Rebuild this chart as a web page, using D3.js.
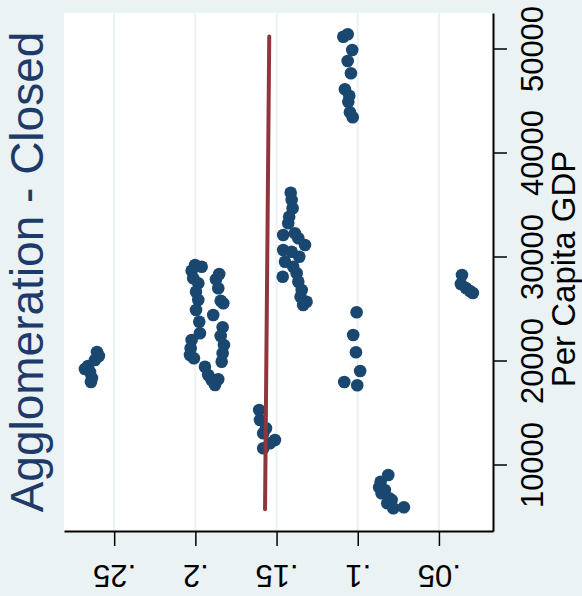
<!DOCTYPE html>
<html lang="en">
<head>
<meta charset="UTF-8">
<title>Agglomeration - Closed vs Per Capita GDP</title>
<script src="https://d3js.org/d3.v7.min.js"></script>
<style>
  body { margin: 0; background: #eaf2f3; }
  svg { display: block; font-family: "Liberation Sans", Arial, sans-serif; }
</style>
</head>
<body>
<div id="chart"></div>
<script>
// observations: agglomeration (closed) and per capita GDP, paired by index
const agglo = [
  0.2606, 0.2594, 0.2618, 0.2661, 0.2680, 0.2649, 0.2637, 0.2643,
  0.2002, 0.1961, 0.2023, 0.2013, 0.1982, 0.1996, 0.1982, 0.1996, 0.1976, 0.1972, 0.2023, 0.2029, 0.2033, 0.2009,
  0.1853, 0.1873, 0.1859, 0.1844, 0.1828, 0.1890, 0.1832, 0.1844, 0.1824, 0.1832, 0.1838, 0.1941, 0.1921, 0.1900, 0.1859, 0.1879,
  0.1607, 0.1602, 0.1565, 0.1582, 0.1510, 0.1541, 0.1582,
  0.1413, 0.1407, 0.1401, 0.1422, 0.1428, 0.1459, 0.1387, 0.1366, 0.1325, 0.1459, 0.1407,
  0.1360, 0.1448, 0.1397, 0.1462, 0.1376, 0.1366, 0.1345, 0.1352, 0.1315, 0.1336,
  0.1089, 0.1062, 0.1034, 0.1062, 0.1042, 0.1079, 0.1052, 0.1058, 0.1048, 0.1031,
  0.1007, 0.1028, 0.1011, 0.0985, 0.1083, 0.1003,
  0.0812, 0.0859, 0.0868, 0.0853, 0.0833, 0.0806, 0.0818, 0.0791, 0.0781, 0.0716,
  0.0358, 0.0365, 0.0334, 0.0309, 0.0291
];
const gdp = [
  20817, 20433, 20048, 19471, 19183, 18894, 18317, 17933,
  29183, 29019, 28635, 27904, 27423, 26615, 25817, 24856, 23731, 22615, 21971, 21173, 20529, 20212,
  28317, 27808, 26942, 25750, 25500, 24375, 23192, 22356, 21490, 20692, 19885, 19404, 18606, 18125, 18192, 17644,
  15240, 14279, 13481, 13000, 12356, 12038, 11558,
  36135, 35433, 34635, 33827, 33192, 32067, 32231, 31750, 31106, 30625, 30462,
  29981, 29500, 29019, 28058, 28385, 27577, 26779, 26135, 25654, 25337,
  51135, 51365, 49856, 48798, 47615, 46077, 45462, 44885, 43865, 43385,
  24635, 22452, 20788, 18990, 17933, 17615,
  8990, 8346, 7808, 7231, 7548, 6750, 6269, 6587, 5788, 5885,
  28221, 27356, 26971, 26683, 26490
];

// fitted line end points
const fitGdp = [5692, 51154];
const fitAgglo = [0.1571, 0.1545];

const aggloTicks = [0.25, 0.2, 0.15, 0.1, 0.05];
const aggloTickLabels = [".25", ".2", ".15", ".1", ".05"];
const gdpTicks = [10000, 20000, 30000, 40000, 50000];

const width = 582;
const height = 596;
const plot = { left: 64, right: 493, top: 13, bottom: 531 };

const svg = d3.select("#chart").append("svg")
    .attr("width", width)
    .attr("height", height);

svg.append("rect")
    .attr("width", width)
    .attr("height", height)
    .attr("fill", "#eaf2f3");

// chart is drawn turned: agglomeration runs right to left, GDP bottom to top
const x = d3.scaleLinear()
    .domain([0.2809, 0.0167])
    .range([plot.left, plot.right]);

const y = d3.scaleLinear()
    .domain([3606, 53413])
    .range([plot.bottom, plot.top]);

svg.append("rect")
    .attr("x", plot.left)
    .attr("y", plot.top)
    .attr("width", plot.right - plot.left)
    .attr("height", plot.bottom - plot.top)
    .attr("fill", "#ffffff");

// grid
svg.append("g")
    .selectAll("line")
    .data(aggloTicks)
    .enter().append("line")
    .attr("x1", d => x(d))
    .attr("x2", d => x(d))
    .attr("y1", plot.top)
    .attr("y2", plot.bottom)
    .attr("stroke", "#eaf2f3")
    .attr("stroke-width", 2);

// points
svg.append("g")
    .selectAll("circle")
    .data(agglo.map((a, i) => [a, gdp[i]]))
    .enter().append("circle")
    .attr("cx", d => x(d[0]))
    .attr("cy", d => y(d[1]))
    .attr("r", 6.3)
    .attr("fill", "#1a476f");

// fitted line
const line = d3.line()
    .x(d => x(d[0]))
    .y(d => y(d[1]));

svg.append("path")
    .datum(fitAgglo.map((a, i) => [a, fitGdp[i]]))
    .attr("d", line)
    .attr("fill", "none")
    .attr("stroke", "#90353b")
    .attr("stroke-width", 4)
    .attr("stroke-linecap", "round");

// bottom axis (agglomeration), labels upside down
const xAxis = svg.append("g")
    .attr("transform", `translate(0,${plot.bottom})`)
    .call(d3.axisBottom(x)
        .tickValues(aggloTicks)
        .tickFormat((d, i) => aggloTickLabels[i])
        .tickSize(15)
        .tickSizeOuter(0));

xAxis.select(".domain").attr("stroke-width", 2);
xAxis.selectAll(".tick line").attr("stroke-width", 1.5);
xAxis.selectAll(".tick text")
    .attr("x", 0)
    .attr("y", 0)
    .attr("dy", 0)
    .attr("transform", "translate(0,34) rotate(180)")
    .attr("font-size", 31)
    .attr("font-family", "Liberation Sans, Arial, sans-serif")
    .attr("fill", "#000");

// right axis (GDP)
const yAxis = svg.append("g")
    .attr("transform", `translate(${plot.right},0)`)
    .call(d3.axisRight(y)
        .tickValues(gdpTicks)
        .tickFormat(d3.format("d"))
        .tickSize(14)
        .tickSizeOuter(0));

yAxis.select(".domain").attr("stroke-width", 2);
yAxis.selectAll(".tick line").attr("stroke-width", 1.5);
yAxis.selectAll(".tick text")
    .attr("x", 0)
    .attr("dy", 0)
    .attr("text-anchor", "middle")
    .attr("transform", "translate(50,0) rotate(-90)")
    .attr("font-size", 31)
    .attr("font-family", "Liberation Sans, Arial, sans-serif")
    .attr("fill", "#000");

// titles
svg.append("text")
    .attr("transform", `translate(43,${(plot.top + plot.bottom) / 2}) rotate(-90)`)
    .attr("text-anchor", "middle")
    .attr("font-size", 46)
    .attr("fill", "#1e3a68")
    .text("Agglomeration - Closed");

svg.append("text")
    .attr("transform", `translate(575,${(plot.top + plot.bottom) / 2 - 3}) rotate(-90)`)
    .attr("text-anchor", "middle")
    .attr("font-size", 33)
    .attr("fill", "#000")
    .text("Per Capita GDP");
</script>
</body>
</html>
